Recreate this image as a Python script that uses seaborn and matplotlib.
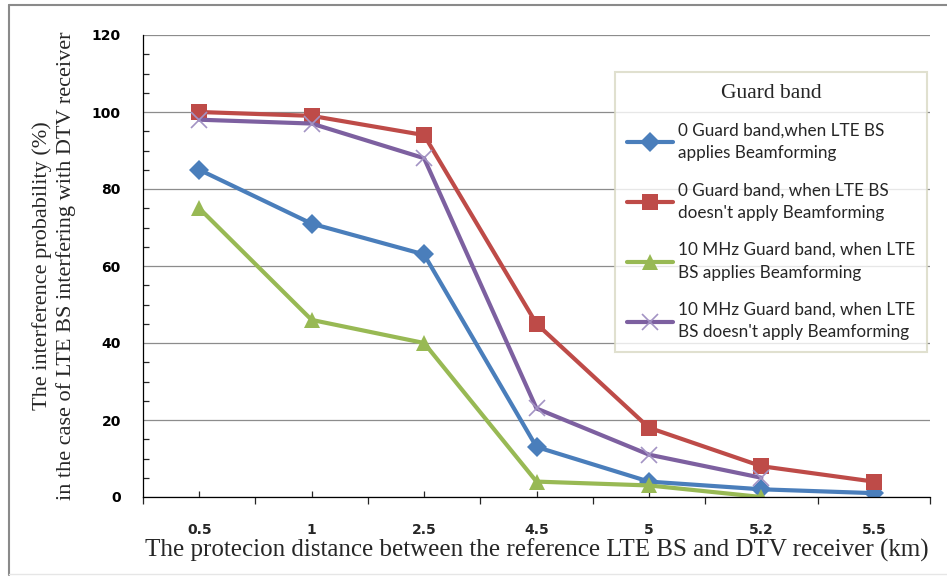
import numpy as np
import pandas as pd
import matplotlib
matplotlib.use("Agg")
import matplotlib.pyplot as plt
from matplotlib.lines import Line2D
from matplotlib.ticker import FixedLocator, MultipleLocator
import seaborn as sns

# data
distances = ["0.5", "1", "2.5", "4.5", "5", "5.2", "5.5"]
gb0_bf = [85, 71, 63, 13, 4, 2, 1]
gb0_nobf = [100, 99, 94, 45, 18, 8, 4]
gb10_bf = [75, 46, 40, 4, 3, 0, np.nan]
gb10_nobf = [98, 97, 88, 23, 11, 5, np.nan]

labels = [
    "0 Guard band,when LTE BS\napplies Beamforming",
    "0 Guard band, when LTE BS\ndoesn't apply Beamforming",
    "10 MHz Guard band, when LTE\nBS applies Beamforming",
    "10 MHz Guard band, when LTE\nBS doesn't apply Beamforming",
]

sns.set_style("white")

fig = plt.figure(figsize=(9.47, 5.77), dpi=100)
ax = fig.add_axes([143 / 947, 1 - 497 / 577, (930 - 143) / 947, (497 - 35) / 577])

styles = [
    (gb0_bf, "#4A7EBB", "#4A7EBB", "D", 10),
    (gb0_nobf, "#BE4B48", "#BE4B48", "s", 11),
    (gb10_bf, "#98B954", "#98B954", "^", 11),
    (gb10_nobf, "#7D60A0", "#A393C4", "x", 12),
]

for (vals, col, mcol, mk, ms), lab in zip(styles, labels):
    df = pd.DataFrame({"pos": np.arange(len(distances)), "prob": vals}).dropna()
    sns.lineplot(data=df, x="pos", y="prob", ax=ax, color=col, lw=3,
                 marker=mk, markersize=ms, markerfacecolor=mcol,
                 markeredgecolor=mcol, markeredgewidth=1.2 if mk == "x" else 0,
                 label=lab, legend=False)

ax.set_xlim(-0.5, len(distances) - 0.5)
ax.set_ylim(0, 120)

# y axis: gridlines at 20s, minor ticks inward every 5
ax.yaxis.set_major_locator(MultipleLocator(20))
ax.yaxis.set_minor_locator(MultipleLocator(5))
ax.grid(axis="y", which="major", color="#8c8c8c", lw=0.9)
ax.grid(axis="x", visible=False)
ax.tick_params(axis="y", which="major", direction="out", length=6, width=0.9,
               pad=10, labelsize=10, colors="black")
ax.tick_params(axis="y", which="minor", direction="in", length=4, width=0.9,
               left=True)
for t in ax.get_yticklabels():
    t.set_fontweight("bold")

# x axis: ticks between categories, labels centred
ax.xaxis.set_major_locator(FixedLocator(np.arange(-0.5, len(distances), 1.0)))
ax.xaxis.set_minor_locator(FixedLocator(np.arange(len(distances))))
ax.set_xticklabels([])
ax.set_xticks(np.arange(len(distances)), distances, minor=True)
ax.tick_params(axis="x", which="major", direction="out", length=5, width=0.9,
               bottom=True)
ax.tick_params(axis="x", which="minor", direction="in", length=4, width=0.9,
               pad=19, labelsize=10, bottom=True)
for t in ax.get_xticklabels(minor=True):
    t.set_fontweight("bold")

for s in ["top", "right"]:
    ax.spines[s].set_visible(False)
for s in ["left", "bottom"]:
    ax.spines[s].set_color("black")
    ax.spines[s].set_linewidth(0.9)

ax.set_xlabel("The protecion distance between the reference LTE BS and DTV receiver (km)",
              family="Liberation Serif", fontsize=18, labelpad=1)
ax.set_ylabel("The interference probability (%)\nin the case of LTE BS interfering with DTV receiver",
              family="Liberation Serif", fontsize=16, labelpad=11, linespacing=1.3)

leg = ax.legend(handles=ax.get_lines()[:4], labels=labels,
                loc="upper left", bbox_to_anchor=(615 / 947, 1 - 72 / 577),
                bbox_transform=fig.transFigure, frameon=True, fancybox=False,
                prop={"family": "Lato", "size": 12.3}, title="Guard band",
                handlelength=2.7, handletextpad=0.3, labelspacing=1.25,
                borderpad=0.7, borderaxespad=0)
for t in leg.get_texts():
    t.set_linespacing(1.5)
leg.get_title().set_fontfamily("Liberation Serif")
leg.get_title().set_fontsize(15.5)
leg._legend_box.sep = 14
leg.get_frame().set_edgecolor("#d9d9c3")
leg.get_frame().set_linewidth(1.5)

# outer chart frame
fig.add_artist(Line2D([9 / 947, 9 / 947], [1 - 5 / 577, 1 - 575 / 577],
                      transform=fig.transFigure, color="#8a8a8a", lw=1.5))
fig.add_artist(Line2D([9 / 947, 1], [1 - 5 / 577, 1 - 5 / 577],
                      transform=fig.transFigure, color="#8a8a8a", lw=1.5))
fig.add_artist(Line2D([9 / 947, 1], [1 - 574 / 577, 1 - 574 / 577],
                      transform=fig.transFigure, color="#e6e6e6", lw=1))

fig.savefig("out.png", dpi=100)
